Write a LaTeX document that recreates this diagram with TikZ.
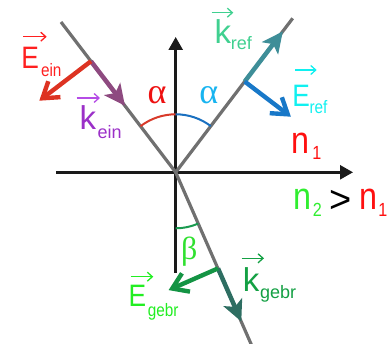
\documentclass[tikz,border=0pt]{standalone}
\usepackage{fontspec}
\setmainfont{Liberation Sans}
\newfontfamily\condf[FakeStretch=0.85]{Liberation Sans}
\newfontfamily\grkf{Liberation Serif}
\usetikzlibrary{arrows.meta}
\definecolor{eeinlab}{HTML}{FF2020}
\definecolor{eeinarr}{HTML}{DD3322}
\definecolor{keinlab}{HTML}{9B30C8}
\definecolor{keinvec}{HTML}{B54CE6}
\definecolor{keinseg}{HTML}{8E4A80}
\definecolor{alred}{HTML}{EE1111}
\definecolor{arcred}{HTML}{D83A2A}
\definecolor{alblue}{HTML}{18B4F0}
\definecolor{arcblue}{HTML}{1A70C0}
\definecolor{kreflab}{HTML}{40D090}
\definecolor{krefseg}{HTML}{3E8E98}
\definecolor{ereflab}{HTML}{10F0F0}
\definecolor{erefarr}{HTML}{1878C8}
\definecolor{nred}{HTML}{FF1010}
\definecolor{ngreen}{HTML}{30EE30}
\definecolor{betagr}{HTML}{30E030}
\definecolor{arcgreen}{HTML}{1A9A50}
\definecolor{egebrlab}{HTML}{22EE22}
\definecolor{egebrarr}{HTML}{149444}
\definecolor{kgebrlab}{HTML}{14A044}
\definecolor{kgebrseg}{HTML}{2E6E62}
\definecolor{raygray}{HTML}{707070}
\definecolor{axisblk}{HTML}{1A1A1A}
\newcommand\lblE{\condf\fontsize{31}{31}\selectfont}
\newcommand\lblK{\fontsize{33}{33}\selectfont}
\newcommand\lblN{\condf\fontsize{38}{38}\selectfont}
\newcommand\lblSub{\fontsize{18}{18}\selectfont}
\newcommand\lblNsub{\fontsize{19}{19}\selectfont}
\begin{document}
\begin{tikzpicture}[x=1pt,y=-1pt,
  lab/.style={inner sep=0pt,outer sep=0pt,anchor=base west},
  ray/.style={line width=3.2pt,raygray},
  axisline/.style={line width=2.5pt,axisblk,-{Triangle[length=13pt,width=14pt]}},
  kseg/.style={line width=4.5pt,-{Stealth[length=21pt,width=20pt,inset=5pt]}},
  evec/.style={line width=4.4pt,-{Straight Barb[length=15pt,width=20pt]}},
  vecar/.style={line width=1.3pt,-{Straight Barb[length=5pt,width=9pt]}},
  anglearc/.style={line width=2pt}]
\useasboundingbox (0,0) rectangle (390,344);
% key points
\coordinate (O) at (175.7,172.3);
\coordinate (A) at (61,22);
\coordinate (R) at (292.7,18.3);
\coordinate (T) at (251.5,345);
\coordinate (F1) at (90.95,61.24);
\coordinate (K1) at (125,105.8);
\coordinate (E1) at (39.3,100.7);
\coordinate (F2) at (244.7,81.56);
\coordinate (K2) at (282.8,31.4);
\coordinate (E2) at (290.9,116.7);
\coordinate (F3) at (218,268.4);
\coordinate (K3) at (241.3,321.5);
\coordinate (E3) at (168.6,290.1);
\coordinate (H1) at (56,172.3);
\coordinate (H2) at (353,172.3);
\coordinate (V1) at (175.7,272.7);
\coordinate (V2) at (175.7,37);
% axes
\draw[axisline] (H1) -- (H2);
\draw[axisline] (V1) -- (V2);
% rays
\draw[ray] (A) -- (O) -- (R);
\draw[ray] (O) -- (T);
% angle arcs
\draw[anglearc,arcred] (O) ++(0,-58) arc[start angle=-90,end angle=-127.35,radius=58];
\draw[anglearc,arcblue] (O) ++(0,-58) arc[start angle=-90,end angle=-52.76,radius=58];
\draw[anglearc,arcgreen] (O) ++(0,56) arc[start angle=90,end angle=66.25,radius=56];
% wave vectors
\draw[kseg,keinseg] (F1) -- (K1);
\draw[kseg,krefseg] (F2) -- (K2);
\draw[kseg,kgebrseg] (F3) -- (K3);
% field vectors
\draw[evec,eeinarr] (F1) -- (E1);
\draw[evec,erefarr] (F2) -- (E2);
\draw[evec,egebrarr] (F3) -- (E3);
% labels
\node[lab,text=eeinlab] (Leein) at (21.3,68.5) {\lblE E\kern2.2pt\raisebox{-8.2pt}{\lblSub ein}};
\node[lab,text=keinlab] (Lkein) at (79.5,130) {\lblK k\kern1.6pt\raisebox{-8.3pt}{\lblSub ein}};
\node[lab,text=kreflab] (Lkref) at (214.5,43.3) {\lblK k\kern-0.2pt\raisebox{-6.7pt}{\lblSub ref}};
\node[lab,text=ereflab] (Leref) at (292.3,106.7) {\lblE E\kern-0.3pt\raisebox{-6.6pt}{\lblSub ref}};
\node[lab,text=egebrlab] (Legebr) at (128.7,306.7) {\lblE E\kern1.5pt\raisebox{-10pt}{\lblSub gebr}};
\node[lab,text=kgebrlab] (Lkgebr) at (242.8,291.7) {\lblK k\kern0.8pt\raisebox{-6.6pt}{\lblSub gebr}};
\node[lab,text=nred] (Ln1) at (291.3,153.3) {\lblN n\kern3pt\raisebox{-6pt}{\lblNsub 1}};
\node[lab] (Ln21) at (293,210) {\textcolor{ngreen}{\lblN n\kern1.9pt\raisebox{-6.7pt}{\lblNsub 2}}\kern7.3pt\raisebox{-3pt}{\fontsize{38}{38}\selectfont >}\kern7.7pt\textcolor{nred}{\lblN n\kern1.3pt\raisebox{-6.7pt}{\lblNsub 1}}};
\node[lab,text=alred] (Lal1) at (147.5,103.3) {\grkf\fontsize{36}{36}\selectfont α};
\node[lab,text=alblue] (Lal2) at (199.3,103.3) {\grkf\fontsize{36}{36}\selectfont α};
\node[lab,text=betagr] (Lbeta) at (181,259.7) {\grkf\fontsize{32}{32}\selectfont β};
% vector arrows over letters
\draw[vecar,eeinlab] ([shift={(2,-31.8)}]Leein.base west) -- ++(23.4,0);
\draw[vecar,keinvec] ([shift={(-2.8,-32)}]Lkein.base west) -- ++(23.3,0);
\draw[vecar,kreflab] ([shift={(-2.8,-30.6)}]Lkref.base west) -- ++(21.6,0);
\draw[vecar,ereflab] ([shift={(2.7,-36.7)}]Leref.base west) -- ++(21.7,0);
\draw[vecar,egebrlab] ([shift={(2,-30)}]Legebr.base west) -- ++(22.6,0);
\draw[vecar,kgebrlab] ([shift={(-1.1,-33.4)}]Lkgebr.base west) -- ++(22.3,0);
\end{tikzpicture}
\end{document}
